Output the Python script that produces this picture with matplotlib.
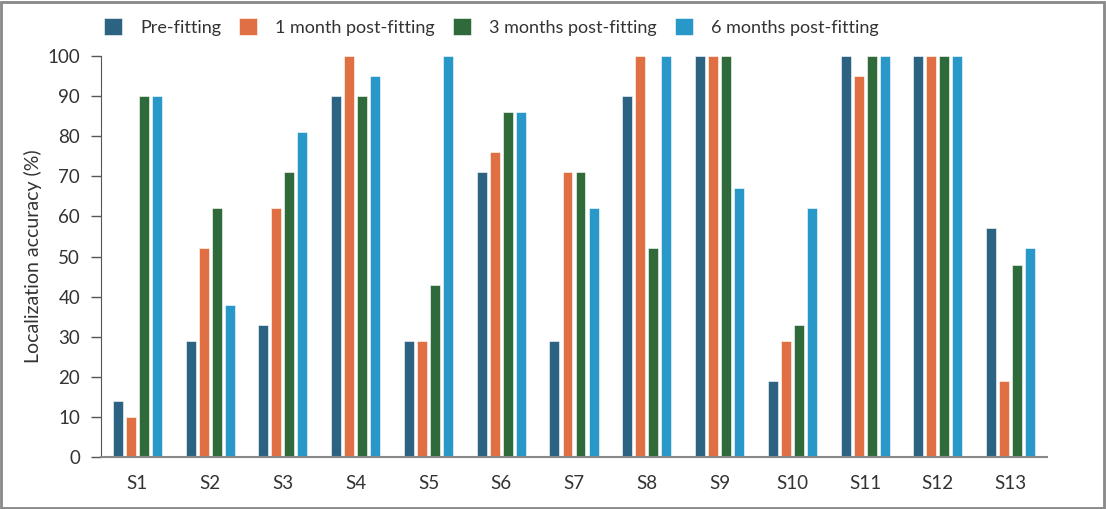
import numpy as np
import matplotlib
matplotlib.use("Agg")
import matplotlib.pyplot as plt
from matplotlib.patches import Rectangle

subjects = ["S1", "S2", "S3", "S4", "S5", "S6", "S7",
            "S8", "S9", "S10", "S11", "S12", "S13"]
series_names = ["Pre-fitting", "1 month post-fitting",
                "3 months post-fitting", "6 months post-fitting"]
pre_fitting = [14, 29, 33, 90, 29, 71, 29, 90, 100, 19, 100, 100, 57]
month_1 = [10, 52, 62, 100, 29, 76, 71, 100, 100, 29, 95, 100, 19]
month_3 = [90, 62, 71, 90, 43, 86, 71, 52, 100, 33, 100, 100, 48]
month_6 = [90, 38, 81, 95, 100, 86, 62, 100, 67, 62, 100, 100, 52]
colors = ["#2D6382", "#E07043", "#2F6A3B", "#2898C8"]

plt.rcParams["font.family"] = ["Lato", "DejaVu Sans"]

fig = plt.figure(figsize=(11.06, 5.09), dpi=100)
ax = fig.add_axes([101 / 1106, 52 / 509, 946 / 1106, 401 / 509])

x = np.arange(len(subjects))
step = 0.179
width = 0.137
for i, (name, vals) in enumerate(zip(series_names,
                                      [pre_fitting, month_1, month_3, month_6])):
    ax.bar(x + (i - 1.5) * step, vals, width, color=colors[i], label=name,
           edgecolor="white", linewidth=0.4)

ax.set_xlim(-0.5, len(subjects) - 0.5)
ax.set_ylim(0, 100)
ax.set_yticks(range(0, 101, 10))
ax.set_xticks(x)
ax.set_xticklabels(subjects)
ax.tick_params(axis="x", length=0, pad=13, labelsize=13.5, colors="#333333")
ax.tick_params(axis="y", length=7, width=1, color="#555555", pad=8,
               labelsize=13.5, labelcolor="#333333")
for side in ["top", "right"]:
    ax.spines[side].set_visible(False)
ax.spines["left"].set_color("#555555")
ax.spines["bottom"].set_color("#888888")
ax.spines["bottom"].set_linewidth(1.5)
ax.set_ylabel("Localization accuracy (%)", fontsize=14, color="#333333",
              labelpad=4)

fig.legend(loc="center left", bbox_to_anchor=(104 / 1106, 1 - 27 / 509),
           ncol=4, frameon=False, fontsize=13, handlelength=1.0,
           handleheight=1.0, handletextpad=1.0, columnspacing=1.0,
           borderpad=0, borderaxespad=0, labelcolor="#333333")

fig.patches.append(Rectangle((0.001, 0.002), 0.997, 0.995,
                             transform=fig.transFigure, fill=False,
                             edgecolor="#888888", linewidth=2))

fig.savefig("out.png", dpi=100)
